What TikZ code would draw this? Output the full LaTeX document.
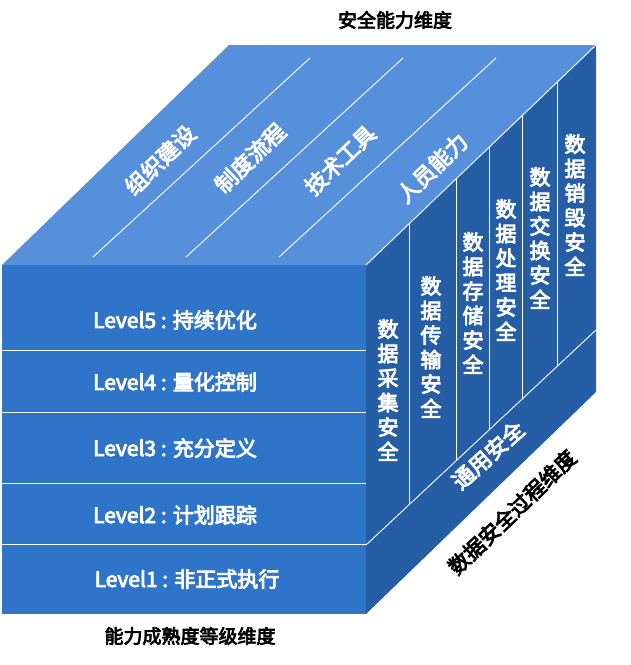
\documentclass[tikz,border=0pt]{standalone}
\usepackage{fontspec}
\newfontfamily\cjk{Noto Sans CJK SC}[FakeBold=4]
\begin{document}
\begin{tikzpicture}[x=1pt,y=-1pt,
  wl/.style={white,line width=0.9pt},
  lvl/.style={text=white,font=\cjk\fontsize{21}{23}\selectfont},
  toptxt/.style={text=white,font=\cjk\fontsize{22}{24}\selectfont,rotate=44},
  col/.style={text=white,font=\cjk\fontsize{21}{24.5}\selectfont,align=center},
  ttl/.style={text=black,font=\cjk\fontsize{19}{22}\selectfont}]
\useasboundingbox (0,0) rectangle (631,665);
% coordinates
\coordinate (FL) at (2,265); \coordinate (FR) at (366,265);
\coordinate (BL) at (2,614); \coordinate (BR) at (366,614);
\coordinate (TL) at (229,45); \coordinate (TR) at (596,45);
\coordinate (RB) at (596,392);
% faces
\fill[fill={rgb,255:red,86;green,144;blue,219}] (FL) -- (TL) -- (TR) -- (FR) -- cycle;
\fill[fill={rgb,255:red,46;green,116;blue,200}] (FL) -- (FR) -- (BR) -- (BL) -- cycle;
\fill[fill={rgb,255:red,38;green,94;blue,165}] (FR) -- (TR) -- (RB) -- (BR) -- cycle;
\draw[wl] (FR) -- (TR);
% front lines
\foreach \y in {350,412,483,544} \draw[wl] (2,\y) -- (366,\y);
% top lines
\draw[wl] (93,257) -- (310,58);
\draw[wl] (186,257) -- (403,58);
\draw[wl] (279,257) -- (496,58);
% right face
\coordinate (S1) at (366,545); \coordinate (S2) at (596,330);
\draw[wl] (S1) -- (S2);
\foreach \x in {409,456,489,522,557}
  \draw[wl] (\x,{265-(\x-366)*0.957}) -- (\x,{545-(\x-366)*0.935});
% texts
\node[lvl] (l5) at (175,320) {Level5 : 持续优化};
\node[lvl] (l4) at (175,382) {Level4 : 量化控制};
\node[lvl] (l3) at (175,448) {Level3 : 充分定义};
\node[lvl] (l2) at (175,515) {Level2 : 计划跟踪};
\node[lvl] (l1) at (187,579) {Level1 : 非正式执行};
\node[toptxt] (t1) at (160,160) {组织建设};
\node[toptxt] (t2) at (250,158) {制度流程};
\node[toptxt] (t3) at (340,160) {技术工具};
\node[toptxt] (t4) at (432,168) {人员能力};
\node[col] (c1) at (388,390) {数\\据\\采\\集\\安\\全};
\node[col] (c2) at (431,347) {数\\据\\传\\输\\安\\全};
\node[col] (c3) at (473,303) {数\\据\\存\\储\\安\\全};
\node[col] (c4) at (506,270) {数\\据\\处\\理\\安\\全};
\node[col] (c5) at (540,238) {数\\据\\交\\换\\安\\全};
\node[col] (c6) at (575,205) {数\\据\\销\\毁\\安\\全};
\node[toptxt,rotate=-2] (g) at (488,455) {通用安全};
\node[ttl,rotate=44,font=\cjk\fontsize{21}{24}\selectfont] (d3) at (512,512) {数据安全过程维度};
\node[ttl] (d1) at (190,636) {能力成熟度等级维度};
\node[ttl] (d2) at (395,20) {安全能力维度};
\end{tikzpicture}
\end{document}
